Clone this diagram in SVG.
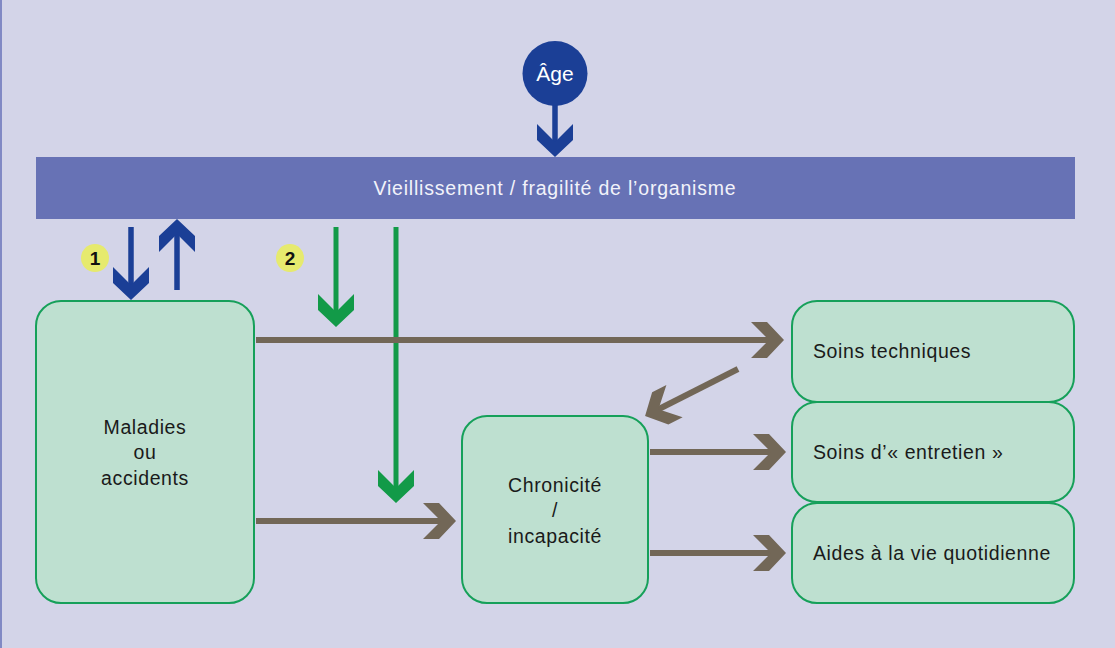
<svg xmlns="http://www.w3.org/2000/svg" width="1115" height="648" viewBox="0 0 1115 648">
<style>
  .box { fill: #BEE0D0; stroke: #16A05A; stroke-width: 2; }
  .lbl { font-family: "Liberation Sans", Arial, sans-serif; font-size: 19.5px; letter-spacing: 0.6px; fill: #1a1a1a; }
  .ctr { text-anchor: middle; }
  .blue { stroke: #1B3F96; stroke-width: 5.5; fill: none; }
  .green { stroke: #129A48; stroke-width: 5; fill: none; }
  .brown { stroke: #726757; stroke-width: 6; fill: none; }
  .badge { fill: #E6EA6E; }
  .badgeTxt { font-family: "Liberation Sans", Arial, sans-serif; font-size: 19px; font-weight: bold; fill: #111; text-anchor: middle; }
</style>
<defs>
  <marker id="mBlue" markerUnits="userSpaceOnUse" viewBox="-35 -20 37 40" markerWidth="37" markerHeight="40" refX="-10" refY="0" orient="auto">
    <path d="M-33,-18 L-17,-18 L0,0 L-17,18 L-33,18 L-15,0 Z" fill="#1B3F96"/>
  </marker>
  <marker id="mGreen" markerUnits="userSpaceOnUse" viewBox="-35 -20 37 40" markerWidth="37" markerHeight="40" refX="-10" refY="0" orient="auto">
    <path d="M-33,-18 L-17,-18 L0,0 L-17,18 L-33,18 L-15,0 Z" fill="#129A48"/>
  </marker>
  <marker id="mBrown" markerUnits="userSpaceOnUse" viewBox="-35 -20 37 40" markerWidth="37" markerHeight="40" refX="-10" refY="0" orient="auto">
    <path d="M-33,-18 L-17,-18 L0,0 L-17,18 L-33,18 L-15,0 Z" fill="#726757"/>
  </marker>
</defs>
<rect x="0" y="0" width="1115" height="648" fill="#D3D4E8"/>
<line x1="1" y1="0" x2="1" y2="648" stroke="#6670B8" stroke-width="1.5"/>

<g id="connectors">
  <line class="blue" x1="555" y1="104" x2="555" y2="147" marker-end="url(#mBlue)"/>
  <line class="blue" x1="131" y1="227" x2="131" y2="290" marker-end="url(#mBlue)"/>
  <line class="blue" x1="177" y1="290" x2="177" y2="229" marker-end="url(#mBlue)"/>
  <line class="green" x1="336" y1="227" x2="336" y2="317" marker-end="url(#mGreen)"/>
  <line class="green" x1="396" y1="227" x2="396" y2="493" marker-end="url(#mGreen)"/>
  <line class="brown" x1="256" y1="340" x2="774" y2="340" marker-end="url(#mBrown)"/>
  <line class="brown" x1="738" y1="369" x2="654" y2="411.5" marker-end="url(#mBrown)"/>
  <line class="brown" x1="256" y1="521" x2="446" y2="521" marker-end="url(#mBrown)"/>
  <line class="brown" x1="650" y1="452" x2="776" y2="452" marker-end="url(#mBrown)"/>
  <line class="brown" x1="650" y1="553" x2="776" y2="553" marker-end="url(#mBrown)"/>
</g>

<g id="age">
  <circle cx="555" cy="73.5" r="32.5" fill="#1B3F96"/>
  <text x="555" y="81" class="ctr" font-family="Liberation Sans, Arial, sans-serif" font-size="21" fill="#ffffff">Âge</text>
</g>

<g id="banner">
  <rect x="36" y="157" width="1039" height="62" fill="#6772B5"/>
  <text x="555" y="194.5" class="ctr" font-family="Liberation Sans, Arial, sans-serif" font-size="19.5" letter-spacing="0.8" fill="#F2F2FA">Vieillissement / fragilité de l’organisme</text>
</g>

<g id="badge1">
  <circle class="badge" cx="95" cy="258" r="14"/>
  <text class="badgeTxt" x="95" y="265">1</text>
</g>
<g id="badge2">
  <circle class="badge" cx="290" cy="258" r="14"/>
  <text class="badgeTxt" x="290" y="265">2</text>
</g>

<g id="maladies">
  <rect class="box" x="36" y="301" width="218" height="302" rx="25"/>
  <text class="lbl ctr" x="145" y="434">Maladies</text>
  <text class="lbl ctr" x="145" y="459">ou</text>
  <text class="lbl ctr" x="145" y="485">accidents</text>
</g>

<g id="chronicite">
  <rect class="box" x="462" y="416" width="186" height="187" rx="25"/>
  <text class="lbl ctr" x="555" y="492">Chronicité</text>
  <text class="lbl ctr" x="555" y="517">/</text>
  <text class="lbl ctr" x="555" y="543">incapacité</text>
</g>

<g id="soins-techniques">
  <rect class="box" x="792" y="301" width="282" height="101" rx="25"/>
  <text class="lbl" x="813" y="358">Soins techniques</text>
</g>

<g id="soins-entretien">
  <rect class="box" x="792" y="402" width="282" height="100" rx="25"/>
  <text class="lbl" x="813" y="459">Soins d’« entretien »</text>
</g>

<g id="aides">
  <rect class="box" x="792" y="503" width="282" height="100" rx="25"/>
  <text class="lbl" x="813" y="560">Aides à la vie quotidienne</text>
</g>
</svg>
